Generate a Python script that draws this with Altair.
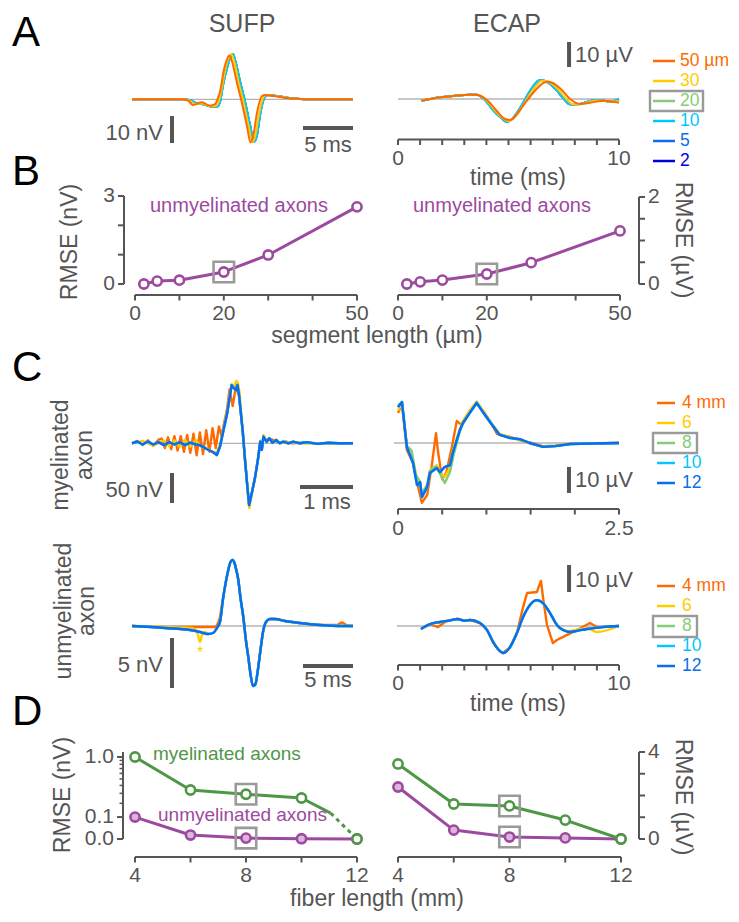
import altair as alt
import pandas as pd

# ---------------- data ----------------
# A: waveforms for different segment lengths (time ms, amplitude)
AL_FINE = [(0, 0), (5.0, 0), (5.8, -0.3), (6.5, -1.5), (7.1, -1.8), (8.0, -2.7), (8.5, -2.7), (8.8, -0.9),
           (9.1, 5.3), (9.5, 11.6), (9.8, 15.3), (10.1, 16.8), (10.3, 14.6), (10.8, 6.6), (11.3, -0.9),
           (11.8, -9.5), (12.2, -15.7), (12.5, -13.2), (12.8, -5.8), (13.3, 1.0), (13.6, 1.6), (14.5, 1.2),
           (15.5, 0.6), (16.5, 0.2), (17.8, 0), (22.1, 0)]
AL_30 = [(0, 0), (5.0, 0), (5.7, -0.4), (6.3, -1.7), (7.0, -1.6), (7.9, -2.6), (8.4, -2.4), (8.7, -0.5),
         (9.0, 4.5), (9.35, 11.4), (9.65, 15.2), (9.95, 16.6), (10.2, 14.4), (10.65, 6.4), (11.15, -1.1),
         (11.65, -9.8), (12.05, -15.9), (12.35, -13.1), (12.7, -5.4), (13.2, 1.1), (13.5, 1.6), (14.4, 1.2),
         (15.4, 0.6), (16.5, 0.2), (17.8, 0), (22.1, 0)]
AL_50 = [(0, 0), (5.0, 0), (5.6, -0.5), (6.1, -2.1), (7.0, -1.1), (7.8, -2.4), (8.3, -1.8), (8.6, 0.5),
         (8.8, 2.8), (9.2, 11.0), (9.5, 14.8), (9.75, 16.2), (10.0, 14.0), (10.5, 6.0), (11.0, -1.5),
         (11.5, -10.0), (11.85, -16.0), (12.15, -13.0), (12.5, -5.0), (13.0, 1.2), (13.3, 1.6), (14.2, 1.2),
         (15.2, 0.6), (16.5, 0.2), (17.8, 0), (22.1, 0)]
AR_FINE = [(1.07, -0.7), (1.75, 0.5), (2.5, 1.2), (3.26, 1.7), (3.56, 1.7), (3.94, -0.4), (4.3, -4.4),
           (4.69, -7.7), (4.92, -9.1), (5.2, -7.7), (5.52, -3.7), (5.82, 0.9), (6.1, 4.9), (6.43, 7.6),
           (6.73, 6.9), (7.1, 4.3), (7.48, 0.3), (7.78, -2.1), (8.24, -2.0), (8.69, -0.8), (9.14, -0.4),
           (9.6, -1.1), (10.0, -0.1)]
AR_30 = [(1.07, -0.7), (1.75, 0.5), (2.5, 1.2), (3.26, 1.7), (3.58, 1.7), (4.0, -0.5), (4.38, -4.5),
         (4.75, -7.8), (5.0, -8.8), (5.28, -7.2), (5.6, -3.3), (5.9, 0.9), (6.2, 4.7), (6.52, 7.3),
         (6.78, 7.0), (7.2, 4.3), (7.6, 0.2), (7.9, -2.0), (8.3, -2.1), (8.7, -1.0), (9.2, -0.6),
         (9.6, -1.0), (10.0, -0.9)]
AR_50 = [(1.07, -0.7), (1.75, 0.5), (2.5, 1.2), (3.26, 1.7), (3.6, 1.6), (4.05, -0.6), (4.45, -4.6),
         (4.8, -7.8), (5.07, -8.4), (5.35, -6.5), (5.65, -2.8), (5.97, 0.9), (6.3, 4.3), (6.6, 6.5),
         (6.8, 6.9), (7.0, 6.4), (7.33, 4.3), (7.8, -0.1), (8.24, -2.0), (8.69, -1.5), (9.3, -0.7),
         (10.0, -1.5)]

# B: RMSE vs segment length
SEG_UM = [2, 5, 10, 20, 30, 50]
RMSE_SUFP_NV = [0.0, 0.1, 0.13, 0.41, 0.99, 2.63]
RMSE_ECAP_UV = [0.0, 0.05, 0.09, 0.23, 0.49, 1.22]

# C: waveforms for different fiber lengths
CTL_12 = [(0, 0), (0.1, 3), (0.2, -2), (0.3, 3), (0.4, -2), (0.5, 2), (0.6, -3), (0.7, 2), (0.8, -2),
          (0.9, 2), (1.0, -3), (1.1, 1), (1.2, -2), (1.28, -3), (1.41, -9.5), (1.53, -15), (1.6, -19.5),
          (1.66, -5.6), (1.72, 19.4), (1.79, 47), (1.85, 80.5), (1.88, 97), (1.92, 92), (1.96, 89),
          (1.99, 97), (2.02, 80.5), (2.09, 19.4), (2.13, -25), (2.18, -75), (2.21, -103), (2.26, -83),
          (2.32, -58), (2.38, -25), (2.42, 2.8), (2.45, -11), (2.48, 11), (2.54, 2.8), (2.59, 8.3),
          (2.65, 1), (2.72, 5.5), (2.79, 0), (2.85, 2.8), (2.95, 0), (3.04, 2.8), (3.17, 0), (3.3, 2),
          (3.5, -1), (3.7, 1), (3.9, 0), (4.17, 0)]
CTL_6 = [(0, 0), (0.2, 4), (0.4, -4), (0.6, 5), (0.7, -5), (0.8, 5), (0.9, -6), (1.0, 6), (1.1, -6),
         (1.2, 6), (1.3, -6), (1.4, -8), (1.5, -13), (1.6, -16), (1.66, -2), (1.72, 22), (1.79, 50),
         (1.85, 84), (1.88, 99), (1.92, 94), (1.97, 104), (2.0, 100), (2.03, 84), (2.09, 22), (2.13, -23),
         (2.18, -76), (2.215, -108), (2.26, -84), (2.32, -58), (2.38, -25), (2.42, 4), (2.45, -9),
         (2.48, 14), (2.54, 3), (2.59, 9), (2.65, 1), (2.72, 6), (2.8, 0), (3.0, 2), (3.3, 0), (4.17, 0)]
CTL_4 = [(0, 0), (0.1, 4), (0.2, -3), (0.3, 5), (0.4, -4), (0.5, 6), (0.56, 8), (0.62, -8), (0.68, 10),
         (0.74, -10), (0.80, 12), (0.86, -12), (0.92, 12), (0.98, -14), (1.04, 14), (1.10, -16),
         (1.16, 16), (1.22, -20), (1.28, 18), (1.34, -18), (1.40, 22), (1.46, -14), (1.52, 25),
         (1.58, -8), (1.64, 28), (1.69, 12), (1.74, 35), (1.79, 55), (1.84, 90), (1.90, 62), (1.96, 95),
         (2.02, 78), (2.09, 18), (2.13, -25), (2.18, -76), (2.21, -105), (2.26, -84), (2.32, -58),
         (2.38, -24), (2.42, 4), (2.45, -8), (2.48, 12), (2.54, 2), (2.6, 8), (2.7, 4), (2.8, 1),
         (2.9, 3), (3.0, 0), (3.2, 1), (3.5, 0), (4.17, 0)]
CTR_12 = [(0, 13.8), (0.045, 15.8), (0.10, -1.5), (0.17, -7.7), (0.215, -16.2), (0.25, -15), (0.27, -20.8),
          (0.33, -16.9), (0.36, -11.5), (0.44, -9.6), (0.475, -11.2), (0.53, -9.2), (0.59, -8.5),
          (0.62, -3.8), (0.70, 5), (0.735, 7.7), (0.81, 11.5), (0.89, 15.4), (0.96, 11.9), (1.04, 8.1),
          (1.15, 3.1), (1.27, 1.9), (1.38, 1.5), (1.49, 0), (1.64, -1.5), (1.78, -1.2), (1.95, -0.4),
          (2.2, -0.2), (2.5, 0)]
CTR_8 = [(0, 14.5), (0.045, 15.8), (0.10, -1.0), (0.155, -3.0), (0.20, -12), (0.25, -15), (0.27, -19.5),
         (0.33, -16), (0.36, -11), (0.42, -9.0), (0.47, -11.5), (0.53, -15.4), (0.59, -11), (0.63, -4.5),
         (0.70, 4.5), (0.735, 7.5), (0.81, 11.5), (0.89, 15.8), (0.96, 12.0), (1.04, 8.3), (1.15, 3.3),
         (1.27, 2.0), (1.38, 1.4), (1.49, 0), (1.64, -1.5), (1.78, -1.2), (1.95, -0.4), (2.2, -0.2), (2.5, 0)]
CTR_6 = [(0, 12.5), (0.045, 15.4), (0.10, -1.2), (0.17, -6.5), (0.215, -14), (0.25, -15.5), (0.27, -21),
         (0.33, -17), (0.36, -10.5), (0.44, -8.5), (0.475, -11.5), (0.53, -13), (0.59, -9.5), (0.62, -3),
         (0.70, 5.5), (0.735, 8.5), (0.81, 12.5), (0.89, 16.0), (0.96, 12.5), (1.04, 8.5), (1.15, 3.5),
         (1.27, 2.2), (1.38, 1.2), (1.49, -0.2), (1.64, -1.3), (1.78, -1.0), (1.95, -0.3), (2.2, -0.2), (2.5, 0)]
CTR_4 = [(0, 11.5), (0.045, 15.0), (0.10, -2.7), (0.17, -7.7), (0.215, -15), (0.27, -23), (0.33, -20),
         (0.38, -9.2), (0.43, 3.8), (0.45, -2.7), (0.50, -14), (0.545, -11.5), (0.61, -1.5), (0.665, 8.5),
         (0.72, 6.9), (0.79, 10.8), (0.89, 15.4), (0.96, 12.5), (1.04, 8.5), (1.12, 3.5), (1.25, 2.5),
         (1.38, 1.0), (1.49, 0.2), (1.64, -1.2), (1.78, -1.0), (1.95, -0.3), (2.2, -0.1), (2.5, 0)]
CBL_12 = [(0, 0), (3.3, -0.2), (5.8, -0.4), (6.8, -0.6), (7.6, -0.8), (8.1, -0.7), (8.5, -0.2), (8.8, 0.4),
          (9.13, 2.9), (9.4, 4.5), (9.63, 5.6), (9.85, 6.4), (10.05, 6.6), (10.25, 6.3), (10.45, 5.5),
          (10.63, 4.6), (10.85, 2.8), (11.13, 0.9), (11.4, -1.5), (11.63, -3.1), (11.85, -4.8), (12.1, -6.0),
          (12.35, -5.8), (12.6, -4.3), (12.85, -2.4), (13.1, -0.6), (13.4, 0.4), (13.8, 0.7), (14.3, 0.7),
          (15.3, 0.5), (16.8, 0.3), (18.8, 0.1), (21.0, 0), (22.1, 0)]
CBL_6 = [(0, 0), (3.3, -0.1), (5.8, -0.2), (6.3, -0.3), (6.6, -0.9), (6.8, -1.6), (7.0, -0.9), (7.3, -0.6),
         (7.6, -0.8), (8.1, -0.7), (8.5, -0.2), (8.8, 0.4), (9.13, 2.9), (9.4, 4.5), (9.63, 5.6), (9.85, 6.4),
         (10.05, 6.6), (10.25, 6.3), (10.45, 5.5), (10.63, 4.6), (10.85, 2.8), (11.13, 0.9), (11.4, -1.5),
         (11.63, -3.1), (11.85, -4.8), (12.1, -6.0), (12.35, -5.8), (12.6, -4.3), (12.85, -2.4), (13.1, -0.6),
         (13.4, 0.4), (13.8, 0.7), (14.3, 0.7), (15.3, 0.5), (16.8, 0.3), (18.8, 0.1), (21.0, 0), (22.1, 0)]
CBL_4 = [(0, 0), (3.3, -0.1), (5.8, -0.1), (8.0, -0.1), (8.3, -0.1), (8.6, 0.3), (8.8, 0.9), (9.0, 2.2),
         (9.3, 3.9), (9.5, 5.0), (9.8, 6.3), (10.05, 6.6), (10.25, 6.3), (10.45, 5.5), (10.63, 4.6),
         (10.85, 2.8), (11.13, 0.9), (11.4, -1.5), (11.63, -3.1), (11.85, -4.8), (12.1, -6.0), (12.35, -5.8),
         (12.6, -4.3), (12.85, -2.4), (13.1, -0.6), (13.4, 0.4), (13.8, 0.7), (14.3, 0.7), (15.3, 0.5),
         (16.8, 0.3), (18.8, 0.1), (20.5, 0.1), (21.0, 0.35), (21.5, 0.05), (22.1, 0)]
CBR_12 = [(1.04, -1.1), (1.45, 0.7), (1.9, 1.5), (2.3, 2.0), (2.71, 2.6), (3.0, 2.0), (3.26, 2.2), (3.71, 1.1),
          (4.03, -1.5), (4.3, -5.9), (4.55, -8.8), (4.75, -10.0), (5.07, -7.8), (5.38, -2.6), (5.66, 3.3),
          (5.97, 7.8), (6.29, 9.6), (6.56, 8.5), (6.88, 4.8), (7.19, 0.4), (7.47, -1.5), (7.78, -2.2),
          (8.1, -1.8), (8.55, -1.1), (9.28, -0.4), (10.0, 0)]
CBR_6 = [(1.04, -1.1), (1.45, 0.7), (1.9, 1.5), (2.3, 2.0), (2.71, 2.6), (3.0, 2.0), (3.26, 2.2), (3.71, 1.1),
         (4.03, -1.5), (4.3, -5.9), (4.55, -8.8), (4.75, -10.0), (5.07, -7.8), (5.38, -2.6), (5.66, 3.3),
         (5.97, 7.8), (6.29, 9.6), (6.56, 8.5), (6.88, 4.8), (7.19, 0.4), (7.47, -1.3), (7.78, -1.9),
         (8.1, -1.3), (8.55, -0.9), (9.0, -2.2), (10.0, 0)]
CBR_4 = [(1.04, -1.1), (1.45, 0.7), (1.81, -0.4), (2.13, 1.5), (2.3, 2.0), (2.71, 2.6), (3.0, 2.0), (3.26, 2.2),
         (3.71, 1.1), (4.03, -1.5), (4.3, -5.9), (4.55, -8.8), (4.75, -10.0), (5.07, -7.8), (5.38, -2.6),
         (5.66, 7.0), (5.84, 12.2), (6.29, 12.6), (6.36, 14.4), (6.47, 16.7), (6.56, 10.7), (6.74, 0.4),
         (7.01, -6.3), (7.19, -5.2), (7.65, -3.3), (8.1, -1.5), (8.69, 1.1), (9.0, -0.4), (10.0, 0)]

# D: RMSE vs fiber length
FIBER_MM = [4, 6, 8, 10, 12]
D_SUFP_MY = [1.0, 0.34, 0.29, 0.25, 0.0]
D_SUFP_MY_BEND = (11.05, 0.125)
D_SUFP_UN = [0.1, 0.014, 0.003, 0.001, 0.0]
D_ECAP_MY = [3.45, 1.61, 1.52, 0.87, 0.0]
D_ECAP_UN = [2.39, 0.41, 0.09, 0.05, 0.0]

SEG_LABELS = ["50 \u00b5m", "30", "20", "10", "\u20075", "\u20072"]
FIB_LABELS = ["4 mm", "6", "8", "10", "12"]

# ---------------- styles ----------------
OFF = 8
FONT = "Liberation Sans"
GRAY = "#555555"
BASE = "#b4b4b4"
BOXC = "#9a9a9a"
PURPLE = "#9c4a9f"
PURPLE_L = "#dbb6db"
GREEN_D = "#4f9647"
C_OR = "#ff6a00"
C_YE = "#ffcc00"
C_GR = "#84cc76"
C_CY = "#00c8ff"
C_BL = "#0b6df0"
C_DB = "#0000dd"
SEG_COLORS = [C_OR, C_YE, C_GR, C_CY, C_BL, C_DB]
FIB_COLORS = [C_OR, C_YE, C_GR, C_CY, C_BL]

layers = []


def S(dom, rng, **kw):
    return alt.Scale(domain=dom, range=[rng[0] - OFF, rng[1] - OFF], zero=False, nice=False, **kw)


class Panel:
    def __init__(self, xd, xr, yd, yr, **ykw):
        self.xd, self.xr, self.yd, self.yr, self.ykw = xd, xr, yd, yr, ykw

    def X(self, f):
        return alt.X(f, type="quantitative", scale=S(self.xd, self.xr), axis=None)

    def Y(self, f):
        return alt.Y(f, type="quantitative", scale=S(self.yd, self.yr, **self.ykw), axis=None)


def pv(v):
    return alt.value(v - OFF)


def wave(p, pairs, color, width=2.2, interp="linear", dash=None):
    kw = dict(color=color, strokeWidth=width, interpolate=interp, strokeJoin="round")
    if dash:
        kw["strokeDash"] = dash
    df = pd.DataFrame({"t": [a for a, _ in pairs], "v": [b for _, b in pairs]})
    layers.append(alt.Chart(df).mark_line(**kw).encode(x=p.X("t"), y=p.Y("v")))


def hrule(p, x1, x2, y, color, w):
    df = pd.DataFrame({"a": [x1], "b": [x2], "y": [y]})
    layers.append(alt.Chart(df).mark_rule(color=color, strokeWidth=w).encode(x=p.X("a"), x2="b", y=p.Y("y")))


def vrule(p, x, y1, y2, color, w):
    df = pd.DataFrame({"x": [x], "a": [y1], "b": [y2]})
    layers.append(alt.Chart(df).mark_rule(color=color, strokeWidth=w).encode(x=p.X("x"), y=p.Y("a"), y2="b"))


def xaxis(p, lo, hi, ticks, labels, ypix, lab_base):
    df = pd.DataFrame({"a": [lo], "b": [hi]})
    layers.append(alt.Chart(df).mark_rule(color=GRAY, strokeWidth=2).encode(x=p.X("a"), x2="b", y=pv(ypix)))
    dt = pd.DataFrame({"x": ticks})
    layers.append(alt.Chart(dt).mark_rule(color=GRAY, strokeWidth=2).encode(x=p.X("x"), y=pv(ypix), y2=pv(ypix + 5.5)))
    dl = pd.DataFrame({"x": [v for v, _ in labels], "s": [s for _, s in labels]})
    layers.append(alt.Chart(dl).mark_text(font=FONT, fontSize=21, color=GRAY, align="center",
                                          baseline="alphabetic").encode(x=p.X("x"), y=pv(lab_base), text="s:N"))


def yaxis(p, ylo_pix, yhi_pix, ticks, labels, xpix, side, minor=None):
    d0 = pd.DataFrame({"a": [0]})
    layers.append(alt.Chart(d0).mark_rule(color=GRAY, strokeWidth=2).encode(x=pv(xpix), y=pv(ylo_pix), y2=pv(yhi_pix)))
    sgn = -1 if side == "left" else 1
    dt = pd.DataFrame({"y": ticks})
    layers.append(alt.Chart(dt).mark_rule(color=GRAY, strokeWidth=2).encode(y=p.Y("y"), x=pv(xpix), x2=pv(xpix + sgn * 6)))
    if minor:
        dm = pd.DataFrame({"y": minor})
        layers.append(alt.Chart(dm).mark_rule(color=GRAY, strokeWidth=1.5).encode(y=p.Y("y"), x=pv(xpix), x2=pv(xpix + sgn * 3.5)))
    dl = pd.DataFrame({"y": [v for v, _ in labels], "s": [s for _, s in labels]})
    layers.append(alt.Chart(dl).mark_text(font=FONT, fontSize=21, color=GRAY,
                                          align="right" if side == "left" else "left",
                                          baseline="middle").encode(y=p.Y("y"), x=pv(xpix + sgn * 9), text="s:N"))


def points(p, xs, ys, stroke, fill, size=85):
    df = pd.DataFrame({"x": xs, "y": ys})
    layers.append(alt.Chart(df).mark_point(shape="circle", filled=True, fill=fill, stroke=stroke, strokeWidth=2.6,
                                           size=size, opacity=1).encode(x=p.X("x"), y=p.Y("y")))


def box(p, xs, ys):
    df = pd.DataFrame({"x": xs, "y": ys})
    layers.append(alt.Chart(df).mark_point(shape="square", filled=False, stroke=BOXC, strokeWidth=2.6,
                                           size=420, opacity=1).encode(x=p.X("x"), y=p.Y("y")))


def rectbox(x0, x1, y0, y1):
    d0 = pd.DataFrame({"a": [0]})
    layers.append(alt.Chart(d0).mark_rect(fillOpacity=0, stroke=BOXC, strokeWidth=2.4).encode(
        x=pv(x0), x2=pv(x1), y=pv(y0), y2=pv(y1)))


def legend(labels, colors, ys, xl0, xl1, xt):
    df = pd.DataFrame({"y": [y - OFF for y in ys], "c": colors, "s": labels})
    layers.append(alt.Chart(df).mark_rule(strokeWidth=2.5).encode(
        x=pv(xl0), x2=pv(xl1), y=alt.Y("y:Q", scale=None), color=alt.Color("c:N", scale=None)))
    layers.append(alt.Chart(df).mark_text(font=FONT, fontSize=17.5, align="left", baseline="middle").encode(
        x=pv(xt), y=alt.Y("y:Q", scale=None), text="s:N", color=alt.Color("c:N", scale=None)))


def ptext(rows, size, color=GRAY, align="center", baseline="alphabetic", angle=0):
    df = pd.DataFrame({"x": [r[0] - OFF for r in rows], "y": [r[1] - OFF for r in rows], "s": [r[2] for r in rows]})
    kw = dict(font=FONT, fontSize=size, color=color, align=align, baseline=baseline)
    if angle:
        kw["angle"] = angle
    layers.append(alt.Chart(df).mark_text(**kw).encode(
        x=alt.X("x:Q", scale=None), y=alt.Y("y:Q", scale=None), text="s:N"))


# ---------------- panels ----------------
PAL = Panel([0, 22.1], [132, 353], [-20, 20], [153.3, 45.3])
PAR = Panel([0, 10], [398, 619], [-20, 20], [149, 49])
PBL = Panel([0, 50], [135, 357], [0, 3], [284, 196])
PBR = Panel([0, 50], [398, 620], [0, 2], [284, 197])
PCTL = Panel([0, 4.17], [132, 353], [-120, 120], [515.3, 371.3])
PCTR = Panel([0, 2.5], [398, 619], [-30, 30], [521, 365])
PCBL = Panel([0, 22.1], [132, 353], [-8, 8], [706, 546])
PCBR = Panel([0, 10], [398, 619], [-30, 30], [707, 545])
PDL = Panel([4, 12], [135, 357], [0, 1], [839, 757], type="symlog", constant=0.125)
PDR = Panel([4, 12], [398, 621], [0, 4], [839, 752])

# ---- A ----
hrule(PAL, 0, 22.1, 0, BASE, 1.3)
for pairs, c in [(AL_FINE, C_DB), (AL_FINE, C_BL), (AL_FINE, C_GR), (AL_FINE, C_CY), (AL_30, C_YE), (AL_50, C_OR)]:
    wave(PAL, pairs, c, width=2.0, interp="monotone")
vrule(PAL, 4.0, -6.2, -16.2, GRAY, 4)
hrule(PAL, 17.1, 22.1, -10.6, GRAY, 4)

hrule(PAR, 0, 10, 0, BASE, 1.3)
for pairs, c in [(AR_FINE, C_DB), (AR_FINE, C_BL), (AR_FINE, C_GR), (AR_FINE, C_CY), (AR_30, C_YE), (AR_50, C_OR)]:
    wave(PAR, pairs, c, width=2.0, interp="monotone")
vrule(PAR, 7.74, 12.8, 22.8, GRAY, 4)
xaxis(PAR, 0, 10, list(range(11)), [(0, "0"), (10, "10")], 139.5, 165)
legend(SEG_LABELS, SEG_COLORS, [61, 81, 101, 121, 141, 161], 653, 675, 680)
rectbox(650, 703, 91, 111)

# ---- B ----
yaxis(PBL, 196, 284, [0, 1, 2, 3], [(0, "0"), (3, "3")], 124, "left")
xaxis(PBL, 0, 50, [0, 10, 20, 30, 40, 50], [(0, "0"), (20, "20"), (50, "50")], 295, 320)
wave(PBL, list(zip(SEG_UM, RMSE_SUFP_NV)), PURPLE, width=3)
points(PBL, SEG_UM, RMSE_SUFP_NV, PURPLE, "white")
box(PBL, [20], [RMSE_SUFP_NV[3]])

yaxis(PBR, 197, 284, [0, 0.5, 1, 1.5, 2], [(0, "0"), (2, "2")], 639, "right")
xaxis(PBR, 0, 50, [0, 10, 20, 30, 40, 50], [(0, "0"), (20, "20"), (50, "50")], 295, 320)
wave(PBR, list(zip(SEG_UM, RMSE_ECAP_UV)), PURPLE, width=3)
points(PBR, SEG_UM, RMSE_ECAP_UV, PURPLE, "white")
box(PBR, [20], [RMSE_ECAP_UV[3]])

# ---- C top (myelinated) ----
hrule(PCTL, 0, 4.17, 0, BASE, 1.3)
for pairs, c in [(CTL_4, C_OR), (CTL_6, C_YE), (CTL_12, C_GR), (CTL_12, C_CY), (CTL_12, C_BL)]:
    wave(PCTL, pairs, c, width=2.4)
vrule(PCTL, 0.755, -49.5, -99.5, GRAY, 4)
hrule(PCTL, 3.17, 4.17, -73, GRAY, 4)

hrule(PCTR, -0.045, 2.5, 0, BASE, 1.3)
for pairs, c in [(CTR_4, C_OR), (CTR_6, C_YE), (CTR_8, C_GR), (CTR_12, C_CY), (CTR_12, C_BL)]:
    wave(PCTR, pairs, c, width=2.4)
vrule(PCTR, 1.934, -9.2, -19.2, GRAY, 4)
xaxis(PCTR, 0, 2.5, [0, 0.5, 1, 1.5, 2, 2.5], [(0, "0"), (2.5, "2.5")], 509, 535)
legend(FIB_LABELS, FIB_COLORS, [403, 423, 443, 463, 483], 657, 675, 682)
rectbox(653, 697, 433, 453)

# ---- C bottom (unmyelinated) ----
hrule(PCBL, 0, 22.1, 0, BASE, 1.3)
for pairs, c in [(CBL_4, C_OR), (CBL_6, C_YE), (CBL_12, C_GR), (CBL_12, C_CY), (CBL_12, C_BL)]:
    wave(PCBL, pairs, c, width=2.4, interp="monotone")
vrule(PCBL, 4.0, -1.2, -6.2, GRAY, 4)
hrule(PCBL, 17.1, 22.1, -4.0, GRAY, 4)

hrule(PCBR, -0.05, 10, 0, BASE, 1.3)
for pairs, c, ip in [(CBR_4, C_OR, "linear"), (CBR_6, C_YE, "monotone"), (CBR_12, C_GR, "monotone"),
                     (CBR_12, C_CY, "monotone"), (CBR_12, C_BL, "monotone")]:
    wave(PCBR, pairs, c, width=2.4, interp=ip)
vrule(PCBR, 7.74, 12.6, 22.6, GRAY, 4)
xaxis(PCBR, 0, 10, list(range(11)), [(0, "0"), (10, "10")], 665, 690)
legend(FIB_LABELS, FIB_COLORS, [586, 606, 626, 646, 666], 657, 675, 682)
rectbox(653, 697, 616, 637)

# ---- D ----
yaxis(PDL, 752, 839, [0, 0.1, 1.0], [(0, "0.0"), (0.1, "0.1"), (1.0, "1.0")], 123, "left",
      minor=[0.2, 0.3, 0.4, 0.5, 0.6, 0.7, 0.8, 0.9])
xaxis(PDL, 4, 12, [4, 6, 8, 10, 12], [(4, "4"), (8, "8"), (12, "12")], 857, 882)
wave(PDL, list(zip(FIBER_MM, D_SUFP_UN)), PURPLE, width=3)
points(PDL, FIBER_MM, D_SUFP_UN, PURPLE, PURPLE_L)
wave(PDL, list(zip(FIBER_MM[:4], D_SUFP_MY[:4])) + [D_SUFP_MY_BEND], GREEN_D, width=3)
wave(PDL, [D_SUFP_MY_BEND, (FIBER_MM[4], D_SUFP_MY[4])], GREEN_D, width=3, dash=[4, 4])
points(PDL, FIBER_MM, D_SUFP_MY, GREEN_D, "white")
box(PDL, [8, 8], [D_SUFP_MY[2], D_SUFP_UN[2]])

yaxis(PDR, 752, 839, [0, 1, 2, 3, 4], [(0, "0"), (4, "4")], 639, "right")
xaxis(PDR, 4, 12, [4, 6, 8, 10, 12], [(4, "4"), (8, "8"), (12, "12")], 857, 882)
wave(PDR, list(zip(FIBER_MM, D_ECAP_UN)), PURPLE, width=3)
points(PDR, FIBER_MM, D_ECAP_UN, PURPLE, PURPLE_L)
wave(PDR, list(zip(FIBER_MM, D_ECAP_MY)), GREEN_D, width=3)
points(PDR, FIBER_MM, D_ECAP_MY, GREEN_D, "white")
box(PDR, [8, 8], [D_ECAP_MY[2], D_ECAP_UN[2]])

# ---------------- text ----------------
ptext([(12, 12, "A"), (12, 151, "B"), (12, 347, "C"), (12, 691, "D")], 42, color="#000000", align="left",
      baseline="line-top")
ptext([(242, 32, "SUFP"), (507, 32, "ECAP")], 25)
ptext([(518, 185, "time (ms)"), (377, 343, "segment length (\u00b5m)"), (518, 711, "time (ms)"),
       (377, 906, "fiber length (mm)")], 23)
ptext([(70, 242, "RMSE (nV)"), (63, 795, "RMSE (nV)"), (61, 455, "myelinated"), (85, 455, "axon"),
       (64, 611, "unmyelinated"), (87, 611, "axon")], 23, baseline="middle", angle=270)
ptext([(683, 240, "RMSE (\u00b5V)"), (683, 797, "RMSE (\u00b5V)")], 23, baseline="middle", angle=90)
ptext([(163, 140, "10 nV"), (163, 497, "50 nV"), (163, 672, "5 nV")], 22, align="right")
ptext([(328, 152, "5 ms"), (327, 509, "1 ms"), (328, 687, "5 ms")], 22)
ptext([(575, 62, "10 \u00b5V"), (575, 487, "10 \u00b5V"), (575, 587, "10 \u00b5V")], 22, align="left")
ptext([(150, 212, "unmyelinated axons"), (413, 212, "unmyelinated axons")], 20, color=PURPLE, align="left")
ptext([(158, 821, "unmyelinated axons")], 19, color=PURPLE, align="left")
ptext([(153, 760, "myelinated axons")], 19, color=GREEN_D, align="left")
ptext([(200, 658, "*")], 16, color=C_YE)

chart = alt.layer(*layers).resolve_scale(
    x="independent", y="independent", color="independent"
).properties(width=723, height=906, padding=0, autosize="none").configure_view(stroke=None)

chart.save("out.html", embed_options={"renderer": "svg", "actions": False})
